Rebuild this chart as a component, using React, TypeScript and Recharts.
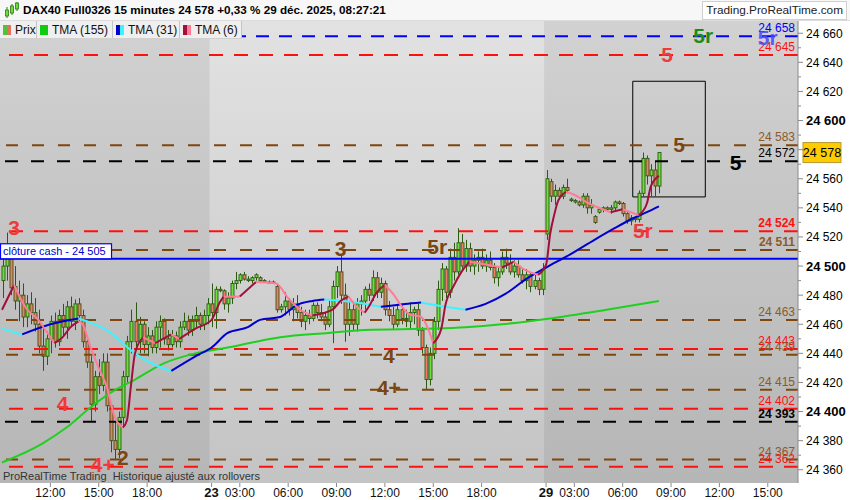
import React from 'react'
import {
  ComposedChart,
  Bar,
  Line,
  XAxis,
  YAxis,
  ReferenceLine,
  ReferenceArea,
  ReferenceDot,
} from 'recharts'

const FONT = '"Liberation Sans", Arial, sans-serif'
const SLOTS = 198 // 15 min slots, incl. the empty room on the right

// [open, high, low, close] per 15 min bar
const bars22 = [
  [24490, 24505, 24478, 24500], [24500, 24523, 24490, 24508], [24506, 24512, 24480, 24485], [24486, 24500, 24470, 24476],
  [24476, 24490, 24462, 24480], [24480, 24488, 24458, 24465], [24465, 24480, 24458, 24474], [24474, 24482, 24460, 24468],
  [24468, 24478, 24455, 24460], [24460, 24470, 24440, 24445], [24445, 24458, 24428, 24438], [24438, 24455, 24432, 24450],
  [24450, 24466, 24440, 24462], [24462, 24468, 24444, 24448], [24448, 24470, 24445, 24466], [24466, 24474, 24452, 24458],
  [24458, 24476, 24450, 24472], [24472, 24479, 24458, 24462], [24462, 24477, 24456, 24474], [24474, 24478, 24462, 24466],
  [24466, 24470, 24444, 24448], [24448, 24452, 24430, 24434], [24434, 24438, 24393, 24405], [24405, 24428, 24400, 24424],
  [24424, 24436, 24412, 24418], [24418, 24440, 24414, 24434], [24434, 24440, 24400, 24404], [24404, 24406, 24372, 24380],
  [24380, 24396, 24367, 24374], [24374, 24400, 24368, 24396], [24396, 24428, 24390, 24424], [24424, 24452, 24420, 24448],
  [24448, 24470, 24440, 24462], [24462, 24475, 24442, 24448], [24448, 24465, 24440, 24460], [24460, 24462, 24440, 24446],
  [24446, 24458, 24438, 24452], [24452, 24456, 24440, 24444], [24444, 24462, 24440, 24458], [24458, 24466, 24444, 24462],
  [24462, 24464, 24446, 24450], [24450, 24456, 24442, 24446], [24446, 24456, 24444, 24452], [24452, 24455, 24444, 24448],
  [24448, 24462, 24444, 24458], [24458, 24468, 24456, 24462], [24462, 24466, 24452, 24456], [24456, 24466, 24452, 24462],
  [24462, 24472, 24458, 24466], [24466, 24468, 24456, 24460], [24460, 24470, 24456, 24466], [24466, 24478, 24460, 24474],
]

const bars23 = [
  [24474, 24488, 24458, 24468], [24468, 24486, 24457, 24484], [24484, 24486, 24482, 24483], [24483, 24484, 24470, 24474],
  [24474, 24482, 24468, 24478], [24478, 24490, 24474, 24488], [24488, 24496, 24484, 24490], [24490, 24495, 24488, 24494],
  [24494, 24496, 24490, 24491], [24491, 24493, 24489, 24490], [24490, 24493, 24488, 24492], [24492, 24495, 24490, 24494],
  [24492, 24493, 24489, 24490], [24490, 24491, 24489, 24489], [24489, 24490, 24489, 24489], [24489, 24490, 24488, 24488],
  [24486, 24488, 24468, 24470], [24470, 24474, 24468, 24472], [24472, 24482, 24466, 24476], [24476, 24478, 24466, 24470],
  [24470, 24478, 24462, 24474], [24474, 24480, 24464, 24468], [24468, 24472, 24458, 24462], [24462, 24470, 24456, 24466],
  [24466, 24470, 24460, 24464], [24464, 24475, 24462, 24473], [24473, 24475, 24464, 24468], [24468, 24474, 24462, 24465],
  [24465, 24468, 24456, 24460], [24460, 24476, 24458, 24472], [24472, 24490, 24447, 24486], [24486, 24500, 24478, 24496],
  [24496, 24508, 24474, 24480], [24480, 24488, 24448, 24460], [24460, 24476, 24452, 24470], [24470, 24474, 24456, 24460],
  [24460, 24478, 24455, 24474], [24474, 24480, 24466, 24476], [24476, 24486, 24470, 24484], [24484, 24488, 24476, 24480],
  [24480, 24497, 24476, 24492], [24492, 24496, 24478, 24482], [24482, 24492, 24478, 24488], [24488, 24490, 24466, 24470],
  [24470, 24476, 24462, 24466], [24466, 24472, 24456, 24460], [24460, 24474, 24458, 24470], [24470, 24474, 24460, 24464],
  [24464, 24470, 24458, 24462], [24462, 24475, 24456, 24468], [24468, 24472, 24460, 24470], [24470, 24474, 24452, 24456],
  [24456, 24458, 24440, 24444], [24444, 24446, 24415, 24422], [24422, 24444, 24418, 24440], [24440, 24465, 24436, 24462],
  [24462, 24490, 24456, 24484], [24484, 24502, 24476, 24498], [24498, 24500, 24478, 24482], [24482, 24512, 24478, 24506],
  [24506, 24516, 24490, 24496], [24496, 24526, 24494, 24516], [24516, 24522, 24498, 24500], [24500, 24518, 24496, 24512],
  [24512, 24516, 24496, 24500], [24500, 24508, 24494, 24504], [24504, 24510, 24496, 24506], [24506, 24512, 24498, 24500],
  [24500, 24508, 24496, 24504], [24504, 24510, 24497, 24499], [24499, 24502, 24488, 24492], [24492, 24500, 24486, 24496],
  [24496, 24510, 24494, 24506], [24506, 24512, 24498, 24502], [24502, 24508, 24494, 24496], [24496, 24504, 24492, 24500],
  [24500, 24504, 24492, 24494], [24494, 24498, 24488, 24490], [24490, 24498, 24484, 24494], [24494, 24496, 24482, 24486],
  [24486, 24494, 24484, 24490], [24490, 24492, 24480, 24484], [24484, 24502, 24480, 24498],
]

const bars29 = [
  [24522, 24566, 24518, 24560], [24558, 24560, 24544, 24548], [24548, 24556, 24542, 24552], [24552, 24554, 24546, 24548],
  [24548, 24556, 24546, 24554], [24554, 24560, 24550, 24552], [24546, 24547, 24544, 24545], [24545, 24546, 24543, 24544],
  [24544, 24545, 24541, 24542], [24542, 24550, 24540, 24548], [24548, 24550, 24536, 24540], [24540, 24546, 24536, 24542],
  [24534, 24535, 24529, 24530], [24537, 24540, 24536, 24539], [24539, 24541, 24537, 24540], [24540, 24541, 24538, 24539],
  [24539, 24542, 24536, 24540], [24540, 24545, 24538, 24544], [24544, 24545, 24542, 24543], [24543, 24544, 24534, 24536],
  [24536, 24537, 24529, 24531], [24531, 24535, 24528, 24533], [24533, 24534, 24530, 24532], [24532, 24552, 24530, 24550],
  [24550, 24578, 24548, 24574], [24574, 24576, 24556, 24562], [24562, 24570, 24548, 24566], [24566, 24572, 24548, 24555],
  [24555, 24578, 24550, 24578],
]

// indicator readings, [bar index, value]
const tma155: [number, number][] = [
  [0, 24365], [10, 24378], [16, 24389], [22, 24403], [27, 24413], [33, 24422], [40, 24433], [48, 24440],
  [56, 24444], [63, 24448], [69, 24451], [81, 24454], [90, 24456], [107, 24457], [115, 24458], [124, 24460],
  [136, 24464], [150, 24470], [163, 24476],
]
const tma31: [number, number][] = [
  [0, 24457], [5, 24453], [12, 24460], [19, 24464], [26, 24456], [33, 24440], [38, 24432], [42, 24428],
  [48, 24438], [52, 24444], [56, 24454], [61, 24458], [64, 24463], [69, 24465], [73, 24473], [77, 24476],
  [80, 24477], [88, 24475], [94, 24472], [100, 24474], [104, 24475], [110, 24472], [115, 24470], [120, 24474],
  [125, 24481], [130, 24491], [135, 24499], [141, 24508], [147, 24518], [152, 24526], [156, 24532], [160, 24537],
  [163, 24541],
]
const tma6: [number, number][] = [
  [0, 24470], [3, 24487], [6, 24471], [9, 24463], [11, 24455], [13, 24447], [15, 24451], [17, 24458],
  [19, 24462], [20, 24460], [22, 24444], [24, 24430], [26, 24417], [28, 24396], [30, 24389], [31, 24394],
  [32, 24418], [33, 24440], [35, 24451], [38, 24447], [42, 24453], [44, 24450], [48, 24457], [52, 24463],
  [54, 24475], [55, 24479], [59, 24479], [63, 24489], [68, 24488], [71, 24478], [74, 24470], [77, 24466],
  [82, 24470], [84, 24476], [86, 24479], [88, 24472], [90, 24468], [91, 24472], [93, 24482], [95, 24487],
  [97, 24481], [99, 24473], [101, 24467], [104, 24465], [106, 24455], [107, 24447], [109, 24457], [110, 24473],
  [112, 24486], [114, 24496], [116, 24503], [120, 24501], [124, 24499], [127, 24503], [130, 24497], [133, 24494],
  [135, 24501], [136, 24522], [137, 24535], [138, 24545], [140, 24551], [142, 24549], [145, 24544], [149, 24539],
  [151, 24537], [154, 24539], [158, 24535], [160, 24543], [161, 24555], [163, 24562],
]

const redLevels = [24645, 24524, 24443, 24402, 24362]
const brownLevels = [24583, 24511, 24463, 24439, 24415, 24367]
const blackLevels = [24572, 24393]
const blueLevels = [24658]
const cashClose = 24505

// wave counts: [bar index, price, text]
const redWaves: [number, number, string][] = [[3, 24526, '3'], [15, 24405, '4'], [25, 24363, '4+'], [159, 24524, '5r'], [165, 24645, '5']]
const brownWaves: [number, number, string][] = [[30, 24368, '2'], [84, 24512, '3'], [108, 24513, '5r'], [96, 24438, '4'], [96, 24416, '4+'], [168, 24583, '5']]
const blackWaves: [number, number, string][] = [[182, 24571, '5']]
const greenWaves: [number, number, string][] = [[174, 24658, '5r']]
const blueWaves: [number, number, string][] = [[190, 24657, '5r']]

const xLabels: [number, string][] = [
  [12, '12:00'], [24, '15:00'], [36, '18:00'], [52, '23'], [59, '03:00'], [71, '06:00'], [83, '09:00'],
  [95, '12:00'], [107, '15:00'], [119, '18:00'], [135, '29'], [142, '03:00'], [154, '06:00'], [166, '09:00'],
  [178, '12:00'], [190, '15:00'],
]
const yTicks = Array.from({ length: 31 }, (_, k) => 24360 + k * 10)

const RED = '#ff1010'
const BROWN = '#80470c'
const BROWN_TXT = '#8c5a28'
const WICK = '#2b5a12'

const fmt = (v: number) => `${Math.floor(v / 1000)} ${String(v % 1000).padStart(3, '0')}`

const candles = [...bars22, ...bars23, ...bars29]
const lastClose = candles[candles.length - 1][3]

const rows: any[] = Array.from({ length: SLOTS }, (_, i) => {
  const row: any = { i }
  const b = candles[i]
  if (b) {
    row.o = b[0]
    row.h = b[1]
    row.l = b[2]
    row.c = b[3]
    row.range = [b[2], b[1]]
  }
  return row
})

// split an indicator into rising / falling runs so each gets its colour
const lineDefs: { key: string; color: string }[] = []
function addIndicator(name: string, pts: [number, number][], upColor: string, downColor: string) {
  const runs: { up: boolean; pts: [number, number][] }[] = []
  for (let k = 1; k < pts.length; k++) {
    const up = pts[k][1] > pts[k - 1][1]
    const last = runs[runs.length - 1]
    if (last && last.up === up) last.pts.push(pts[k])
    else runs.push({ up, pts: [pts[k - 1], pts[k]] })
  }
  runs.forEach((run, n) => {
    const key = `${name}_${n}`
    run.pts.forEach(([i, v]) => { rows[i][key] = v })
    lineDefs.push({ key, color: run.up ? upColor : downColor })
  })
}
tma155.forEach(([i, v]) => { rows[i].tma155 = v })
addIndicator('tma31', tma31, '#0000d0', '#3ff2ff')
addIndicator('tma6', tma6, '#a0103a', '#ff7b98')

const xLabelMap = new Map(xLabels)

function Candle(props: any) {
  const { x, y, width, height, payload } = props
  if (!payload || payload.h == null) return null
  const k = height / (payload.h - payload.l)
  const cx = Math.round(x + width / 2) + 0.5
  const top = y + (payload.h - Math.max(payload.o, payload.c)) * k
  const bot = y + (payload.h - Math.min(payload.o, payload.c)) * k
  const up = payload.c >= payload.o
  return (
    <g>
      <line x1={cx} x2={cx} y1={y} y2={y + height} stroke={WICK} strokeWidth={1} />
      <rect
        x={cx - 1.5}
        y={top}
        width={3}
        height={Math.max(bot - top, 1)}
        fill={up ? '#6ede3a' : '#f07c66'}
        stroke={WICK}
        strokeWidth={0.9}
      />
    </g>
  )
}

function YTick({ x, y, payload }: any) {
  const v = payload.value
  const major = v % 20 === 0
  const bold = v % 100 === 0
  const hidden = Math.abs(v - lastClose) < 6
  return (
    <g>
      <line x1={x} x2={x + (major ? 5 : 3)} y1={y} y2={y} stroke="#8a8a8a" />
      {major && !hidden && (
        <text x={x + 8} y={y} dy={4.5} fontSize={bold ? 13 : 12} fontWeight={bold ? 'bold' : 'normal'} fill="#000" fontFamily={FONT}>
          {fmt(v)}
        </text>
      )}
    </g>
  )
}

function XTick({ x, y, payload }: any) {
  const lab = xLabelMap.get(payload.value)
  if (!lab) return null
  const day = !lab.includes(':')
  return (
    <g>
      <line x1={x} x2={x} y1={y} y2={y + 4} stroke="#8a8a8a" />
      <text x={x} y={y + 14} textAnchor="middle" fontSize={day ? 13 : 12} fontWeight={day ? 'bold' : 'normal'} fill="#111" fontFamily={FONT}>
        {lab}
      </text>
    </g>
  )
}

const waveShape = (text: string, color: string, opacity = 1) => (p: any) => (
  <text x={p.cx} y={p.cy} dy={7} textAnchor="middle" fontSize={21} fontWeight="bold" fill={color} fillOpacity={opacity} fontFamily={FONT}>
    {text}
  </text>
)

const levelText = (v: number, color: string, bold: boolean) => (p: any) => (
  <text x={p.cx - 1} y={p.cy - 4} textAnchor="end" fontSize={12} fontWeight={bold ? 'bold' : 'normal'} fill={color} fontFamily={FONT}>
    {fmt(v)}
  </text>
)

const boldLevels = new Set([24524, 24511, 24393])

function PriceTag(p: any) {
  return (
    <g>
      <rect x={p.cx + 7} y={p.cy - 10} width={38} height={20} fill="#ffcc00" stroke="#b89a30" strokeWidth={1} />
      <text x={p.cx + 26} y={p.cy + 4.5} textAnchor="middle" fontSize={12.5} fill="#000" fontFamily={FONT}>
        {fmt(lastClose)}
      </text>
    </g>
  )
}

function CashBox(p: any) {
  return (
    <g>
      <rect x={p.cx - 1.5} y={p.cy - 15} width={111} height={15} fill="#ffffff" stroke="#0000ff" strokeWidth={1.2} />
      <text x={p.cx + 1} y={p.cy - 3.5} fontSize={11} fill="#0000cc" fontFamily={FONT}>
        {`clôture cash -  ${fmt(cashClose)}`}
      </text>
    </g>
  )
}

function dashedLevels(values: number[], color: string, dash: string) {
  return values.map((v) => (
    <ReferenceLine
      key={`l${v}`}
      y={v}
      stroke={color}
      strokeWidth={2}
      strokeDasharray={dash}
      segment={v === 24583 ? [{ x: 112, y: v }, { x: SLOTS - 1, y: v }] : undefined}
    />
  ))
}

function levelLabels(values: number[], color: string) {
  return values.map((v) => (
    <ReferenceDot key={`t${v}`} x={SLOTS - 1} y={v} r={1} shape={levelText(v, color, boldLevels.has(v))} />
  ))
}

function waves(list: [number, number, string][], color: string, opacity = 1) {
  return list.map(([i, p, t]) => (
    <ReferenceDot key={`w${i}${p}${t}`} x={i} y={p} r={1} shape={waveShape(t, color, opacity)} />
  ))
}

const legendCell: React.CSSProperties = {
  display: 'flex',
  alignItems: 'center',
  boxSizing: 'border-box',
  height: 17,
  paddingLeft: 3,
  borderRight: '1px solid #c4c4c4',
  background: '#efefef',
  fontSize: 12,
  color: '#111',
  whiteSpace: 'nowrap',
}

function Swatch({ a, b }: { a: string; b?: string }) {
  return (
    <span style={{ display: 'inline-flex', marginRight: 4 }}>
      <span style={{ width: b ? 4 : 8, height: 10, background: a }} />
      {b && <span style={{ width: 4, height: 10, background: b }} />}
    </span>
  )
}

export default function App() {
  return (
    <div style={{ position: 'absolute', left: 0, top: 0, width: 850, height: 500, background: '#ffffff', fontFamily: FONT, overflow: 'hidden' }}>
      <div style={{ position: 'absolute', left: 0, top: 20, width: 798, height: 463, background: 'linear-gradient(#e2e2e2, #c4c4c4)' }} />
      <div style={{ position: 'absolute', left: 0, top: 0 }}>
        <ComposedChart width={850} height={500} data={rows} margin={{ top: 20, right: 0, bottom: 0, left: 0 }}>
          <XAxis
            dataKey="i"
            type="category"
            interval={0}
            height={17}
            axisLine={false}
            tickLine={false}
            tickSize={0}
            tickMargin={0}
            tick={<XTick />}
          />
          <YAxis
            orientation="right"
            width={52}
            domain={[24350.9, 24669.1]}
            allowDataOverflow
            ticks={yTicks}
            interval={0}
            axisLine={{ stroke: '#8a8a8a' }}
            tickLine={false}
            tickSize={0}
            tickMargin={0}
            tick={<YTick />}
          />
          <ReferenceArea x1={0} x2={51} fill="#000" fillOpacity={0.07} stroke="none" />
          <ReferenceArea x1={135} x2={SLOTS - 1} fill="#000" fillOpacity={0.07} stroke="none" />

          {dashedLevels(blueLevels, '#0000ff', '13 10')}
          {dashedLevels(redLevels, RED, '14 11')}
          {dashedLevels(brownLevels, BROWN, '12 14')}
          {dashedLevels(blackLevels, '#000000', '13 13')}
          <ReferenceLine y={cashClose} stroke="#0000ff" strokeWidth={2} />

          <Bar dataKey="range" barSize={3} shape={<Candle />} isAnimationActive={false} />

          <Line dataKey="tma155" stroke="#1fd01f" strokeWidth={2} dot={false} type="monotone" connectNulls isAnimationActive={false} />
          {lineDefs.map((d) => (
            <Line key={d.key} dataKey={d.key} stroke={d.color} strokeWidth={2} dot={false} type="monotone" connectNulls isAnimationActive={false} />
          ))}

          <ReferenceArea x1={157} x2={174} y1={24547.5} y2={24627} fill="none" stroke="#000" strokeWidth={1} />

          {levelLabels(blueLevels, '#0000ff')}
          {levelLabels(redLevels, RED)}
          {levelLabels(brownLevels, BROWN_TXT)}
          {levelLabels(blackLevels, '#000000')}

          {waves(redWaves, '#ee3a3a')}
          {waves(brownWaves, '#7a4712')}
          {waves(blackWaves, '#000000')}
          {waves(greenWaves, '#1b8c1b')}
          {waves(blueWaves, '#4646ff', 0.85)}

          <ReferenceDot x={0} y={cashClose} r={1} shape={CashBox} />
          <ReferenceDot x={SLOTS - 1} y={lastClose} r={1} shape={PriceTag} />
        </ComposedChart>
      </div>

      {/* header */}
      <div style={{ position: 'absolute', left: 0, top: 0, width: 850, height: 20, background: '#f7f7f7', borderBottom: '1px solid #dcdcdc' }}>
        <svg width={18} height={18} style={{ position: 'absolute', left: 3, top: 1 }}>
          <line x1={4} x2={4} y1={6} y2={17} stroke="#2b7a12" />
          <rect x={2.5} y={9} width={3} height={6} fill="#6ede3a" stroke="#2b7a12" strokeWidth={0.8} />
          <line x1={9} x2={9} y1={3} y2={14} stroke="#2b7a12" />
          <rect x={7.5} y={5} width={3} height={7} fill="#6ede3a" stroke="#2b7a12" strokeWidth={0.8} />
          <line x1={14} x2={14} y1={1} y2={10} stroke="#2b7a12" />
          <rect x={12.5} y={2} width={3} height={6} fill="#6ede3a" stroke="#2b7a12" strokeWidth={0.8} />
        </svg>
        <div style={{ position: 'absolute', left: 23, top: 3, fontSize: 11.7, fontWeight: 'bold', color: '#000', whiteSpace: 'nowrap' }}>
          DAX40 Full0326 15 minutes 24 578 +0,33 % 29 déc. 2025, 08:27:21
        </div>
        <div style={{ position: 'absolute', right: 3, top: 1, height: 17, padding: '0 3px', border: '1px solid #cfcfcf', background: '#ffffff', fontSize: 11.8, color: '#222', lineHeight: '17px' }}>
          Trading.ProRealTime.com
        </div>
      </div>

      {/* legend strip */}
      <div style={{ position: 'absolute', left: 0, top: 21, display: 'flex', borderBottom: '1px solid #d0d0d0' }}>
        <div style={{ ...legendCell, width: 37 }}><Swatch a="#52c23a" b="#e8705e" />Prix</div>
        <div style={{ ...legendCell, width: 76 }}><Swatch a="#10cc10" />TMA (155)</div>
        <div style={{ ...legendCell, width: 67 }}><Swatch a="#0000d0" b="#3ff2ff" />TMA (31)</div>
        <div style={{ ...legendCell, width: 62 }}><Swatch a="#a0103a" b="#ff7b98" />TMA (6)</div>
      </div>

      <div style={{ position: 'absolute', left: 3, top: 470, fontSize: 11, color: '#333', whiteSpace: 'nowrap' }}>
        ProRealTime Trading&nbsp; Historique ajusté aux rollovers
      </div>
    </div>
  )
}
